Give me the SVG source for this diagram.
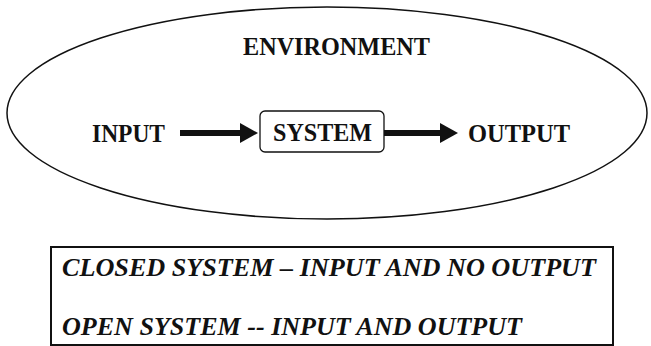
<svg xmlns="http://www.w3.org/2000/svg" width="651" height="346" viewBox="0 0 651 346">
<style>
.t{font-family:"Liberation Serif","Times New Roman",serif;font-weight:bold;fill:#111}
.big{font-size:25.5px}
.it{font-size:26px;font-style:italic}
.ln{fill:none;stroke:#111}
</style>
<defs>
<marker id="ah" markerWidth="3" markerHeight="3.3" refX="0" refY="1.65" orient="auto" markerUnits="strokeWidth">
<path d="M0,0 L3,1.65 L0,3.3 Z" fill="#111"/>
</marker>
</defs>
<rect width="651" height="346" fill="#fff"/>
<g id="environment">
<ellipse class="ln" cx="327" cy="113" rx="320" ry="106" stroke-width="1.5"/>
<text class="t big" x="243" y="55" textLength="187" lengthAdjust="spacingAndGlyphs">ENVIRONMENT</text>
</g>
<g id="input">
<text class="t big" x="92" y="142" textLength="73" lengthAdjust="spacingAndGlyphs">INPUT</text>
</g>
<g id="system">
<rect class="ln" x="260" y="111" width="124" height="41" rx="5" stroke-width="1.3"/>
<text class="t big" x="273" y="141" textLength="99" lengthAdjust="spacingAndGlyphs">SYSTEM</text>
</g>
<g id="output">
<text class="t big" x="468" y="142" textLength="102" lengthAdjust="spacingAndGlyphs">OUTPUT</text>
</g>
<g id="connectors">
<line x1="180" y1="133" x2="240" y2="133" stroke="#111" stroke-width="6" marker-end="url(#ah)"/>
<line x1="384" y1="133" x2="440" y2="133" stroke="#111" stroke-width="6" marker-end="url(#ah)"/>
</g>
<g id="legend">
<rect class="ln" x="51" y="247" width="562" height="98" stroke-width="2"/>
<text class="t it" x="62" y="276" textLength="534" lengthAdjust="spacingAndGlyphs">CLOSED SYSTEM – INPUT AND NO OUTPUT</text>
<text class="t it" x="62" y="335" textLength="460" lengthAdjust="spacingAndGlyphs">OPEN SYSTEM -- INPUT AND OUTPUT</text>
</g>
</svg>
